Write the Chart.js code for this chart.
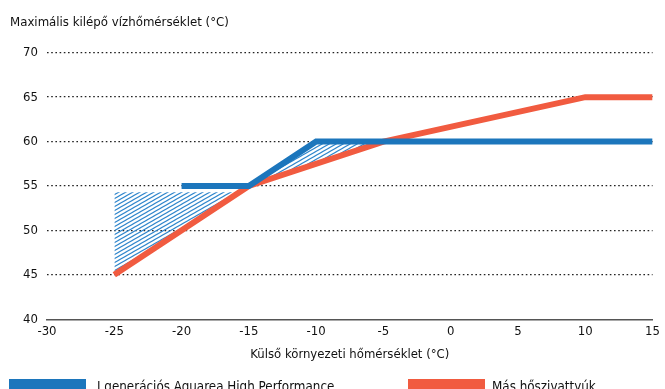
<!DOCTYPE html>
<html>
<head>
<meta charset="utf-8">
<script src="https://cdn.jsdelivr.net/npm/chart.js@4/dist/chart.umd.min.js"></script>
<style>
  html, body { margin: 0; padding: 0; background: #fff; }
  #wrap { width: 665px; height: 389px; }
</style>
</head>
<body>
<div id="wrap"><canvas id="c" width="665" height="389"></canvas></div>
<script>
// Outdoor temperature (°C) vs. maximum leaving water temperature (°C)
const aquareaX = [-20, -15, -10, 15];
const aquareaY = [55, 55, 60, 60];
const otherX = [-25, -15, -5, 10, 15];
const otherY = [45, 55, 60, 65, 65];
// hatched gain zones (upper edges; lower edge is the other heat pumps' curve)
const gainLowX = [-25, -15];
const gainLowY = [54.3, 54.3];
const gainHighX = [-15, -10, -5];
const gainHighY = [55, 60, 60];

const seriesNames = ['J generációs Aquarea High Performance', 'Más hőszivattyúk'];
const xTitle = 'Külső környezeti hőmérséklet (°C)';
const yTitle = 'Maximális kilépő vízhőmérséklet (°C)';
const xMin = -30, xMax = 15, xStep = 5;
const yMin = 40, yMax = 70, yStep = 5;

const BLUE = '#1c76bc';
const RED = '#f15b40';
const INK = '#111';
const FONT = "'Liberation Sans Narrow', 'DejaVu Sans Condensed', 'Arial Narrow', sans-serif";

const pts = (xs, ys) => xs.map((x, i) => ({ x, y: ys[i] }));

// diagonal hatch pattern
function hatchPattern() {
  const w = 7, h = 4;
  const pc = document.createElement('canvas');
  pc.width = w; pc.height = h;
  const g = pc.getContext('2d');
  g.strokeStyle = '#2f86cc';
  g.lineWidth = 1.1;
  for (let dy = -h; dy <= h; dy += h) {
    g.beginPath();
    g.moveTo(-w, h + dy + h);
    g.lineTo(2 * w, dy - h);
    g.stroke();
  }
  return g.createPattern(pc, 'repeat');
}
const hatch = hatchPattern();

// legend drawn under the axis title
const bottomLegend = {
  id: 'bottomLegend',
  afterDraw(chart) {
    const ctx = chart.ctx;
    const items = [
      { ds: chart.data.datasets[0], bx: 9, tx: 97 },
      { ds: chart.data.datasets[1], bx: 408, tx: 492 }
    ];
    ctx.save();
    ctx.font = '13.3px ' + FONT;
    ctx.textBaseline = 'top';
    items.forEach(it => {
      ctx.fillStyle = it.ds.borderColor;
      ctx.fillRect(it.bx, 379, 77, 14);
      ctx.fillStyle = INK;
      ctx.fillText(it.ds.label, it.tx, 381);
    });
    ctx.restore();
  }
};

new Chart(document.getElementById('c'), {
  type: 'line',
  data: {
    datasets: [
      {
        label: seriesNames[0],
        data: pts(aquareaX, aquareaY),
        borderColor: BLUE, backgroundColor: BLUE,
        borderWidth: 6, pointRadius: 0, fill: false,
        borderJoinStyle: 'miter', borderCapStyle: 'butt', tension: 0
      },
      {
        label: seriesNames[1],
        data: pts(otherX, otherY),
        borderColor: RED, backgroundColor: RED,
        borderWidth: 6, pointRadius: 0, fill: false,
        borderJoinStyle: 'miter', borderCapStyle: 'butt', tension: 0
      },
      {
        label: 'gainLow',
        data: pts(gainLowX, gainLowY),
        borderWidth: 0, borderColor: 'rgba(0,0,0,0)', pointRadius: 0,
        fill: { target: 1, above: hatch, below: 'rgba(0,0,0,0)' }
      },
      {
        label: 'gainHigh',
        data: pts(gainHighX, gainHighY),
        borderWidth: 0, borderColor: 'rgba(0,0,0,0)', pointRadius: 0,
        fill: { target: 1, above: hatch, below: 'rgba(0,0,0,0)' }
      }
    ]
  },
  options: {
    responsive: false,
    animation: false,
    events: [],
    layout: { padding: { left: 10, right: 10, top: 0, bottom: 22.5 } },
    plugins: {
      legend: { display: false },
      tooltip: { enabled: false },
      title: {
        display: true,
        text: yTitle,
        align: 'start',
        color: INK,
        font: { family: FONT, size: 13.1, weight: 'normal' },
        padding: { top: 15, bottom: 22 }
      }
    },
    scales: {
      x: {
        type: 'linear',
        min: xMin, max: xMax,
        ticks: {
          stepSize: xStep,
          color: INK,
          padding: 5,
          font: { family: FONT, size: 13 }
        },
        grid: { display: false, drawTicks: false },
        border: { display: true, color: '#555', width: 1.5 },
        title: {
          display: true,
          text: xTitle,
          color: INK,
          font: { family: FONT, size: 13 },
          padding: { top: 2, bottom: 4 }
        }
      },
      y: {
        min: yMin, max: yMax,
        z: 1,
        afterFit: s => { s.width = 37; },
        ticks: {
          stepSize: yStep,
          color: INK,
          padding: 9,
          font: { family: FONT, size: 13 }
        },
        grid: {
          drawTicks: false,
          color: c => (c.tick && c.tick.value === yMin) ? 'rgba(0,0,0,0)' : '#222',
          lineWidth: 1.3
        },
        border: { display: false, dash: [1.6, 2.6] }
      }
    }
  },
  plugins: [bottomLegend]
});
</script>
</body>
</html>
